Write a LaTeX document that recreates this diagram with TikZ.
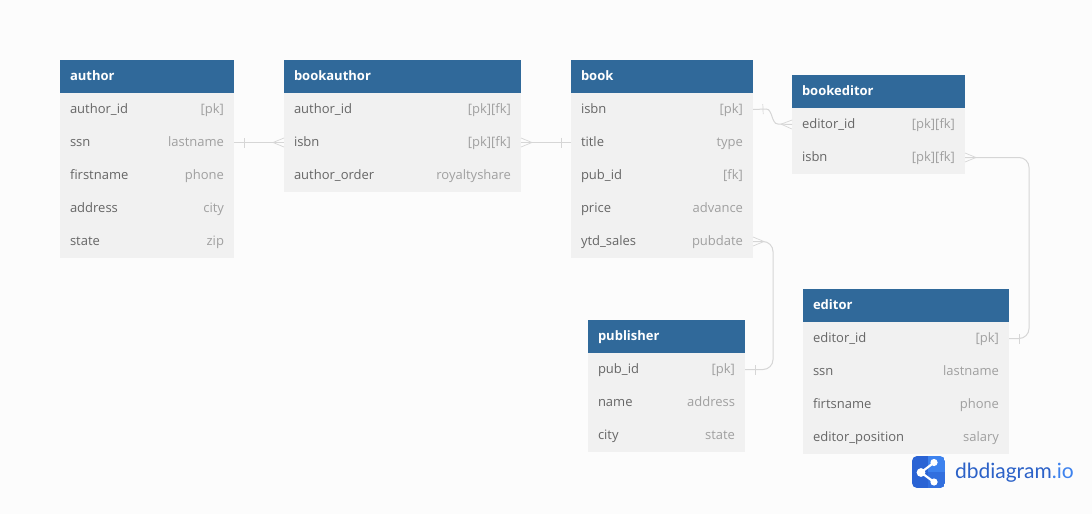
\documentclass[tikz,border=0pt]{standalone}
\usepackage{fontspec}
\setmainfont{Open Sans}
\newfontfamily\logofont{Lato}
\usepackage{tikz}
\usetikzlibrary{positioning,decorations.markings}

\definecolor{pagebg}{HTML}{FCFCFC}
\definecolor{headblue}{HTML}{30699A}
\definecolor{rowgray}{HTML}{F1F1F1}
\definecolor{nametext}{HTML}{666666}
\definecolor{typetext}{HTML}{A0A0A0}
\definecolor{linegray}{HTML}{D6D6D6}
\definecolor{logodark}{HTML}{2A63D4}
\definecolor{logolight}{HTML}{3D82EE}
\definecolor{logotext}{HTML}{2C62C8}
\newcommand{\typ}[1]{\textcolor{typetext}{#1}}

\begin{document}
\begin{tikzpicture}[
  x=1pt, y=-1pt,
  every node/.style={font=\fontsize{13}{15}\selectfont, inner ysep=0pt, inner xsep=10pt, outer sep=0pt},
  headbox/.style={rectangle, fill=headblue, text=white, minimum height=33pt, text width=#1,
                  text height=10pt, text depth=3pt, font=\fontsize{13}{15}\selectfont\bfseries},
  rowbox/.style={rectangle, fill=rowgray, text=nametext, minimum height=33pt, text width=#1,
                 text height=10pt, text depth=3pt},
  link/.style={draw=linegray, line width=1pt, postaction={decorate}, decoration={markings,
    mark=at position 10pt with {\draw[draw=linegray, line width=.7pt] (0,-5pt) -- (0,5pt);},
    mark=at position 1 with {\draw[draw=linegray, line width=.7pt] (-11pt,0) -- (0,-4.5pt) (-11pt,0) -- (0,4.5pt);}}}
]
  \fill[pagebg] (0,0) rectangle (1092,514);

  % author
  \node[headbox=154pt, anchor=north west] (a) at (60,60) {author};
  \node[rowbox=154pt, below=0pt of a] (a1) {author\_id\hfill\typ{[pk]}};
  \node[rowbox=154pt, below=0pt of a1] (a2) {ssn\hfill\typ{lastname}};
  \node[rowbox=154pt, below=0pt of a2] (a3) {firstname\hfill\typ{phone}};
  \node[rowbox=154pt, below=0pt of a3] (a4) {address\hfill\typ{city}};
  \node[rowbox=154pt, below=0pt of a4] (a5) {state\hfill\typ{zip}};

  % bookauthor
  \node[headbox=217pt, anchor=north west] (ba) at (284,60) {bookauthor};
  \node[rowbox=217pt, below=0pt of ba] (ba1) {author\_id\hfill\typ{[pk][fk]}};
  \node[rowbox=217pt, below=0pt of ba1] (ba2) {isbn\hfill\typ{[pk][fk]}};
  \node[rowbox=217pt, below=0pt of ba2] (ba3) {author\_order\hfill\typ{royaltyshare}};

  % book
  \node[headbox=162pt, anchor=north west] (b) at (571,60) {book};
  \node[rowbox=162pt, below=0pt of b] (b1) {isbn\hfill\typ{[pk]}};
  \node[rowbox=162pt, below=0pt of b1] (b2) {title\hfill\typ{type}};
  \node[rowbox=162pt, below=0pt of b2] (b3) {pub\_id\hfill\typ{[fk]}};
  \node[rowbox=162pt, below=0pt of b3] (b4) {price\hfill\typ{advance}};
  \node[rowbox=162pt, below=0pt of b4] (b5) {ytd\_sales\hfill\typ{pubdate}};

  % bookeditor
  \node[headbox=153pt, anchor=north west] (be) at (792,75) {bookeditor};
  \node[rowbox=153pt, below=0pt of be] (be1) {editor\_id\hfill\typ{[pk][fk]}};
  \node[rowbox=153pt, below=0pt of be1] (be2) {isbn\hfill\typ{[pk][fk]}};

  % publisher
  \node[headbox=137pt, anchor=north west] (p) at (588,320) {publisher};
  \node[rowbox=137pt, below=0pt of p] (p1) {pub\_id\hfill\typ{[pk]}};
  \node[rowbox=137pt, below=0pt of p1] (p2) {name\hfill\typ{address}};
  \node[rowbox=137pt, below=0pt of p2] (p3) {city\hfill\typ{state}};

  % editor
  \node[headbox=186pt, anchor=north west] (e) at (803,289) {editor};
  \node[rowbox=186pt, below=0pt of e] (e1) {editor\_id\hfill\typ{[pk]}};
  \node[rowbox=186pt, below=0pt of e1] (e2) {ssn\hfill\typ{lastname}};
  \node[rowbox=186pt, below=0pt of e2] (e3) {firtsname\hfill\typ{phone}};
  \node[rowbox=186pt, below=0pt of e3] (e4) {editor\_position\hfill\typ{salary}};

  % connectors
  \coordinate (m0) at (766,109);
  \coordinate (m1) at (778,124);
  \coordinate (m2) at (773,300);
  \coordinate (m3) at (1029,250);
  \draw[link] (a2) -- (ba2);
  \draw[link] (b2) -- (ba2);
  \draw[link] (b1.east) -- (m0) .. controls (773,109) and (771,124) .. (m1) -- (be1.west);
  \draw[link, rounded corners=10pt] (p1.east) -| (m2) |- (b5.east);
  \draw[link, rounded corners=10pt] (e1.east) -| (m3) |- (be2.east);

  % logo
  \begin{scope}
    \clip[rounded corners=5pt] (912,456) rectangle (945,488);
    \fill[logodark] (912,456) rectangle (928,488);
    \fill[logolight] (928,456) rectangle (945,488);
    \fill[logodark!60!logolight] (928,472) rectangle (945,488);
  \end{scope}
  \draw[white, line width=2.2pt] (934,462.5) -- (921,472.5) -- (934,482);
  \fill[white] (921,472.5) circle (4.4pt) (934,462.5) circle (3.6pt) (934,482) circle (3.6pt);
  \node[anchor=west, inner xsep=0pt, font=\fontsize{21}{24}\logofont, text=logotext] (logo) at (955,473)
    {dbdiagram\textcolor{logolight}{.io}};
\end{tikzpicture}
\end{document}
